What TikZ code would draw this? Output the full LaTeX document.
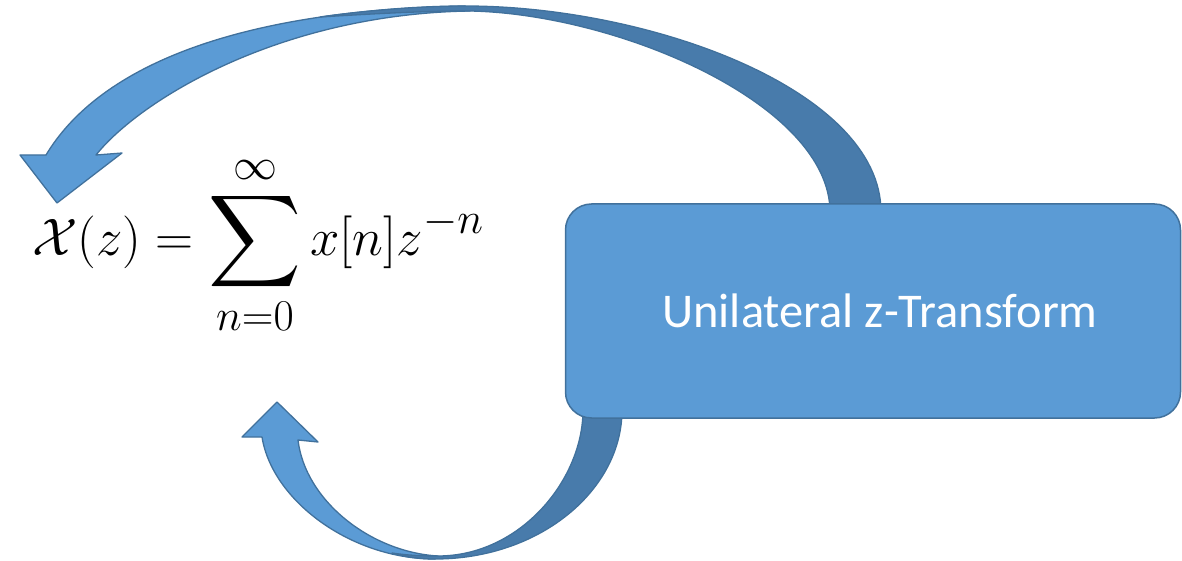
\documentclass[tikz,border=0pt]{standalone}
\usepackage{amsmath}
\usepackage{graphicx}
\usepackage{fontspec}
\newfontfamily\boxfont{Carlito}
\definecolor{facelight}{HTML}{5B9BD5}
\definecolor{facedark}{HTML}{487BAB}
\definecolor{edgeblue}{HTML}{41719C}
\begin{document}
\begin{tikzpicture}[x=1pt,y=-1pt,
  lightface/.style={fill=facelight,draw=edgeblue,line width=1.3pt,line join=round},
  darkface/.style={fill=facedark,draw=edgeblue,line width=1.3pt,line join=round},
  blockbox/.style={draw=edgeblue,fill=facelight,line width=1.5pt,rounded corners=26pt,
    minimum width=615pt,minimum height=214pt,inner sep=0pt,text=white,
    font=\boxfont\fontsize{48.5}{54}\selectfont}]
\path[use as bounding box] (0,0) rectangle (1182,561);

% ---- top curved arrow
\coordinate (tA) at (46,155);   % outer edge at head
\coordinate (tB) at (465,6);    % top of outer edge
\coordinate (tC) at (881,212);  % outer edge at box
\coordinate (tD) at (96,155);   % inner edge at head
\coordinate (tE) at (470,11);   % twist on inner edge
\coordinate (tF) at (830,212);  % inner edge at box
\coordinate (tS) at (320,17);   % start of back face
% front (light) face with head
\path[lightface] (20,155) -- (tA)
  .. controls (100,65) and (240,10) .. (tB) -- (tE)
  .. controls (280,14) and (140,100) .. (tD)
  -- (122,153) -- (57,203) -- cycle;
% back (dark) face
\path[darkface] (tS) .. controls (370,10) and (420,6) .. (tB)
  .. controls (650,6) and (881,90) .. (tC) -- (tF)
  .. controls (830,105) and (620,14) .. (tE)
  .. controls (420,11) and (370,14) .. cycle;

% ---- bottom curved arrow
\coordinate (bG) at (262,437);  % outer edge at head
\coordinate (bH) at (435,559);  % bottom of outer edge
\coordinate (bK) at (622,410);  % outer edge at box
\coordinate (bL) at (298,440);  % inner edge at head
\coordinate (bM) at (438,556);  % twist on inner edge
\coordinate (bN) at (583,410);  % inner edge at box
\coordinate (bS) at (392,553);  % start of back face
% front (light) face with head
\path[lightface] (242,437) -- (bG)
  .. controls (272,500) and (350,559) .. (bH) -- (bM)
  .. controls (370,552) and (305,500) .. (bL)
  -- (318,442) -- (277,402) -- cycle;
% back (dark) face
\path[darkface] (bS) .. controls (405,557) and (420,559) .. (bH)
  .. controls (540,559) and (622,490) .. (bK) -- (bN)
  .. controls (583,480) and (520,556) .. (bM)
  .. controls (420,556) and (405,555) .. cycle;

% ---- box
\node[blockbox] (box) at (873,311) {\hspace*{14pt}Unilateral z-Transform};

% ---- formula
\node[anchor=base west,inner sep=0pt,font=\Huge] (formula) at (32,255)
  {\scalebox{2.12}{$\displaystyle \mathcal{X}(z) = \mathop{\vcenter{\hbox{\scalebox{1.22}{$\displaystyle\sum$}}}}\limits_{n=0}^{\infty} x[n] z^{-n}$}};
\end{tikzpicture}
\end{document}
